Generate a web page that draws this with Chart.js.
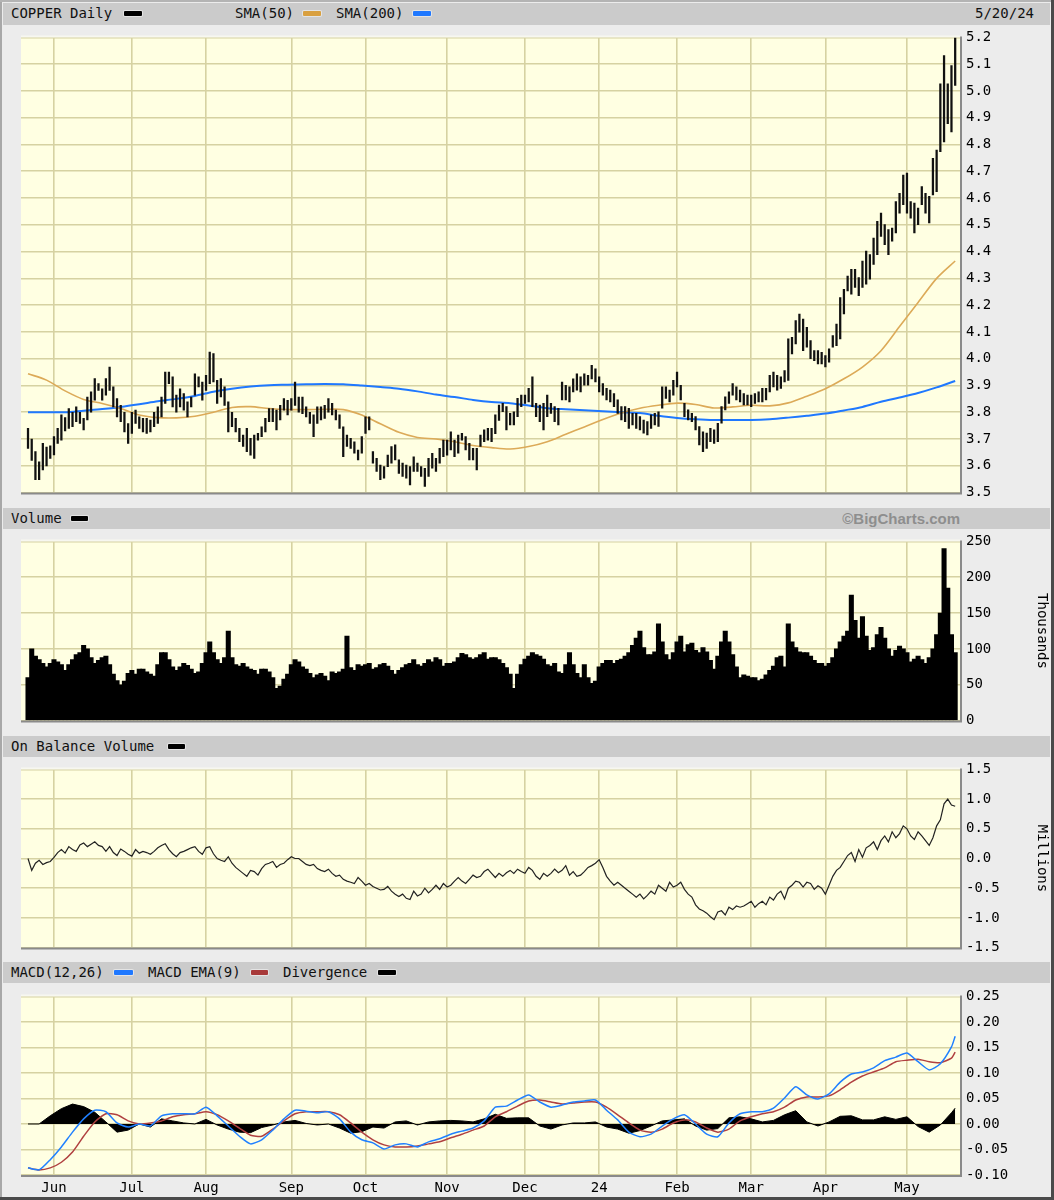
<!DOCTYPE html>
<html>
<head>
<meta charset="utf-8">
<script src="https://cdn.jsdelivr.net/npm/chart.js@4.4.1/dist/chart.umd.min.js"></script>
<style>
body { margin: 0; background: #fff; }
#frame { position: relative; width: 1054px; height: 1200px; background: #ececec; overflow: hidden;
  font-family: "DejaVu Sans Mono", monospace; }
.hdr { position: absolute; left: 3px; width: 1047px; height: 21px; background: #cbcbcb;
  font-size: 14px; line-height: 21px; color: #111; }
.hdr span { position: absolute; top: 0; white-space: pre; }
.sw { position: absolute; top: 8px; height: 5px; border-radius: 1px; box-shadow: 0 0 0 1px #e4e4e4; }
.edge { position: absolute; }
canvas { position: absolute; }
</style>
</head>
<body>
<div id="frame">
  <div class="hdr" style="top:3px;height:22px">
    <span style="left:8px">COPPER Daily</span><div class="sw" style="left:121px;width:18px;background:#000"></div>
    <span style="left:232px">SMA(50)</span><div class="sw" style="left:300px;width:18px;background:#d9a040"></div>
    <span style="left:333px">SMA(200)</span><div class="sw" style="left:410px;width:18px;background:#1f78ff"></div>
    <span style="left:972px">5/20/24</span>
  </div>
  <div class="hdr" style="top:508px">
    <span style="left:8px">Volume</span><div class="sw" style="left:68px;width:17px;background:#000"></div>
    <span style="right:90px;font-family:'Liberation Sans',Arial,sans-serif;font-weight:bold;font-size:15px;color:#8e8e8e">©BigCharts.com</span>
  </div>
  <div class="hdr" style="top:736px">
    <span style="left:8px">On Balance Volume</span><div class="sw" style="left:165px;width:17px;background:#000"></div>
  </div>
  <div class="hdr" style="top:962px">
    <span style="left:8px">MACD(12,26)</span><div class="sw" style="left:111px;width:19px;background:#1f78ff"></div>
    <span style="left:145px">MACD EMA(9)</span><div class="sw" style="left:248px;width:17px;background:#a83a3a"></div>
    <span style="left:280px">Divergence</span><div class="sw" style="left:375px;width:18px;background:#000"></div>
  </div>
  <canvas id="price" width="1029" height="484" style="left:21px;top:23px"></canvas>
  <canvas id="volume" width="1029" height="208" style="left:21px;top:527px"></canvas>
  <canvas id="obv" width="1029" height="207" style="left:21px;top:755px"></canvas>
  <canvas id="macd" width="1029" height="217" style="left:21px;top:982px"></canvas>
  <div class="edge" style="left:0;top:0;width:2px;height:1200px;background:#a8a8a8"></div>
  <div class="edge" style="left:0;top:0;width:1054px;height:2px;background:#b4b4b4"></div>
  <div class="edge" style="right:0;top:0;width:3px;height:1200px;background:#4a4a4a"></div>
  <div class="edge" style="left:0;bottom:0;width:1054px;height:3px;background:#4a4a4a"></div>
</div>
<script>
// trading calendar (COMEX copper, daily)
const startDay = "2023-05-22";
const endDay = "2024-05-20";
const holidays = ["2023-05-29", "2023-06-19", "2023-07-04", "2023-09-04", "2023-11-23",
  "2023-12-25", "2024-01-01", "2024-01-15", "2024-02-19", "2024-03-29"];
// x tick labels by month number (January shows the year)
const monthLabels = ["24", "Feb", "Mar", "Apr", "May", "Jun", "Jul", "Aug", "Sep", "Oct", "Nov", "Dec"];

// daily high / low ($/lb)
const highs = [
  3.74, 3.70, 3.653, 3.615, 3.684, 3.67, 3.675, 3.709, 3.74, 3.79,
  3.78, 3.814, 3.80, 3.82, 3.80, 3.777, 3.857, 3.876, 3.926, 3.907,
  3.888, 3.926, 3.969, 3.895, 3.851, 3.826, 3.80, 3.758, 3.80, 3.808,
  3.783, 3.777, 3.777, 3.771, 3.80, 3.82, 3.857, 3.95, 3.95, 3.932,
  3.864, 3.888, 3.87, 3.839, 3.857, 3.944, 3.932, 3.913, 3.938, 4.025,
  4.019, 3.919, 3.926, 3.895, 3.839, 3.80, 3.777, 3.74, 3.715, 3.74,
  3.703, 3.715, 3.721, 3.746, 3.777, 3.814, 3.814, 3.808, 3.826, 3.851,
  3.845, 3.851, 3.913, 3.857, 3.857, 3.82, 3.80, 3.79, 3.82, 3.82,
  3.826, 3.851, 3.833, 3.808, 3.79, 3.746, 3.715, 3.703, 3.69, 3.659,
  3.709, 3.783, 3.783, 3.653, 3.628, 3.603, 3.597, 3.64, 3.672, 3.678,
  3.622, 3.61, 3.603, 3.597, 3.634, 3.61, 3.597, 3.591, 3.628, 3.647,
  3.628, 3.665, 3.696, 3.696, 3.727, 3.696, 3.715, 3.721, 3.709, 3.684,
  3.665, 3.665, 3.715, 3.734, 3.74, 3.74, 3.79, 3.827, 3.833, 3.821,
  3.796, 3.802, 3.852, 3.864, 3.864, 3.889, 3.932, 3.833, 3.827, 3.833,
  3.864, 3.833, 3.821, 3.815, 3.913, 3.901, 3.895, 3.925, 3.944, 3.932,
  3.944, 3.938, 3.975, 3.962, 3.932, 3.907, 3.889, 3.883, 3.870, 3.846,
  3.821, 3.821, 3.815, 3.796, 3.796, 3.784, 3.771, 3.765, 3.79, 3.796,
  3.802, 3.895, 3.895, 3.883, 3.919, 3.95, 3.901, 3.833, 3.809, 3.796,
  3.784, 3.747, 3.727, 3.722, 3.74, 3.734, 3.759, 3.821, 3.858, 3.876,
  3.907, 3.895, 3.883, 3.870, 3.864, 3.864, 3.870, 3.876, 3.889, 3.889,
  3.938, 3.95, 3.938, 3.932, 3.956, 4.074, 4.08, 4.142, 4.167, 4.148,
  4.117, 4.068, 4.03, 4.03, 4.024, 4.012, 4.037, 4.086, 4.129, 4.228,
  4.259, 4.309, 4.334, 4.334, 4.303, 4.365, 4.402, 4.389, 4.451, 4.513,
  4.544, 4.501, 4.482, 4.488, 4.587, 4.618, 4.686, 4.693, 4.587, 4.581,
  4.563, 4.643, 4.618, 4.606, 4.748, 4.779, 5.027, 5.132, 5.027, 5.095,
  5.20
];
const lows = [
  3.665, 3.62, 3.548, 3.548, 3.585, 3.60, 3.628, 3.641, 3.684, 3.696,
  3.73, 3.74, 3.746, 3.765, 3.758, 3.734, 3.771, 3.80, 3.845, 3.882,
  3.845, 3.864, 3.882, 3.82, 3.783, 3.765, 3.727, 3.684, 3.721, 3.758,
  3.74, 3.727, 3.721, 3.727, 3.746, 3.758, 3.783, 3.833, 3.907, 3.82,
  3.80, 3.82, 3.808, 3.783, 3.82, 3.864, 3.895, 3.845, 3.882, 3.907,
  3.913, 3.833, 3.857, 3.826, 3.727, 3.746, 3.727, 3.69, 3.672, 3.653,
  3.64, 3.628, 3.696, 3.709, 3.727, 3.765, 3.765, 3.734, 3.771, 3.808,
  3.79, 3.808, 3.826, 3.80, 3.795, 3.783, 3.758, 3.709, 3.758, 3.771,
  3.777, 3.80, 3.79, 3.771, 3.74, 3.634, 3.672, 3.665, 3.647, 3.622,
  3.647, 3.721, 3.734, 3.61, 3.579, 3.548, 3.554, 3.597, 3.61, 3.622,
  3.572, 3.56, 3.554, 3.529, 3.579, 3.579, 3.56, 3.523, 3.56, 3.591,
  3.579, 3.61, 3.634, 3.64, 3.659, 3.634, 3.647, 3.696, 3.659, 3.622,
  3.622, 3.585, 3.672, 3.69, 3.696, 3.69, 3.72, 3.77, 3.802, 3.734,
  3.753, 3.753, 3.784, 3.821, 3.833, 3.839, 3.821, 3.784, 3.765, 3.734,
  3.784, 3.796, 3.765, 3.753, 3.846, 3.846, 3.839, 3.876, 3.883, 3.876,
  3.901, 3.901, 3.925, 3.913, 3.876, 3.864, 3.846, 3.839, 3.821, 3.796,
  3.771, 3.765, 3.740, 3.753, 3.740, 3.734, 3.722, 3.715, 3.74, 3.753,
  3.747, 3.815, 3.852, 3.839, 3.864, 3.895, 3.846, 3.784, 3.771, 3.765,
  3.734, 3.678, 3.653, 3.665, 3.69, 3.684, 3.69, 3.759, 3.809, 3.833,
  3.864, 3.846, 3.839, 3.827, 3.827, 3.821, 3.833, 3.839, 3.839, 3.846,
  3.876, 3.895, 3.883, 3.889, 3.913, 3.919, 4.018, 4.055, 4.099, 4.03,
  4.043, 4.0, 3.993, 3.981, 3.981, 3.969, 3.987, 4.043, 4.049, 4.074,
  4.167, 4.253, 4.241, 4.266, 4.235, 4.266, 4.278, 4.297, 4.352, 4.389,
  4.457, 4.426, 4.389, 4.439, 4.47, 4.544, 4.575, 4.544, 4.525, 4.47,
  4.501, 4.575, 4.544, 4.507, 4.612, 4.624, 4.773, 4.81, 4.878, 4.847,
  5.021
];

// moving averages, one reading every 5 trading days
const smaStep = 5;
const sma50 = [
  3.944, 3.92, 3.88, 3.848, 3.833, 3.814, 3.79, 3.78, 3.779, 3.785,
  3.80, 3.818, 3.821, 3.814, 3.81, 3.81, 3.811, 3.81, 3.79, 3.757,
  3.725, 3.706, 3.70, 3.69, 3.676, 3.668, 3.663, 3.672, 3.69, 3.718,
  3.745, 3.773, 3.797, 3.815, 3.826, 3.834, 3.829, 3.816, 3.82, 3.826,
  3.824, 3.835, 3.86, 3.888, 3.925, 3.969, 4.03, 4.12, 4.21, 4.30,
  4.365
];
const sma200 = [
  3.80, 3.80, 3.80, 3.806, 3.812, 3.82, 3.83, 3.841, 3.85, 3.861,
  3.877, 3.888, 3.896, 3.901, 3.903, 3.905, 3.906, 3.905, 3.90, 3.894,
  3.888, 3.878, 3.866, 3.857, 3.846, 3.838, 3.834, 3.825, 3.815, 3.811,
  3.808, 3.804, 3.80, 3.797, 3.787, 3.779, 3.774, 3.771, 3.771, 3.771,
  3.774, 3.78, 3.787, 3.795, 3.807, 3.82, 3.839, 3.855, 3.872, 3.893,
  3.917
];

// volume, thousands of contracts
const volume = [
  60, 100, 90, 85, 80, 75, 80, 85, 82, 78,
  70, 78, 85, 92, 95, 105, 100, 88, 80, 84,
  88, 90, 78, 65, 56, 50, 55, 66, 70, 65,
  72, 72, 68, 65, 62, 78, 95, 95, 85, 75,
  70, 75, 80, 77, 72, 66, 68, 80, 95, 110,
  95, 85, 80, 88, 125, 88, 78, 76, 80, 75,
  72, 70, 65, 72, 72, 68, 60, 45, 48, 58,
  65, 78, 85, 82, 75, 72, 66, 60, 64, 66,
  62, 56, 68, 66, 68, 72, 118, 74, 70, 78,
  76, 78, 80, 72, 74, 78, 80, 76, 70, 65,
  70, 74, 78, 80, 85, 78, 76, 80, 85, 82,
  88, 85, 76, 80, 80, 82, 88, 94, 92, 88,
  86, 88, 92, 95, 86, 88, 88, 85, 80, 74,
  65, 45, 65, 78, 86, 90, 95, 92, 90, 86,
  78, 76, 80, 68, 66, 78, 95, 78, 66, 60,
  78, 60, 52, 55, 75, 80, 84, 84, 80, 84,
  86, 90, 95, 105, 115, 125, 102, 92, 92, 96,
  135, 110, 92, 85, 95, 110, 118, 96, 106, 108,
  98, 95, 102, 96, 84, 72, 90, 110, 125, 110,
  92, 75, 60, 64, 62, 60, 60, 56, 58, 64,
  70, 76, 88, 90, 75, 135, 110, 102, 96, 95,
  95, 90, 84, 80, 80, 76, 80, 88, 100, 110,
  118, 125, 175, 140, 115, 145, 118, 98, 102, 120,
  130, 115, 100, 90, 98, 104, 100, 95, 82, 86,
  90, 85, 80, 88, 100, 120, 150, 240, 185, 120,
  95
];

// on balance volume, millions
const obv = [
  0.0, -0.2, -0.08, -0.03, -0.1, -0.07, -0.05, 0.02, 0.1, 0.15,
  0.09, 0.2, 0.15, 0.12, 0.23, 0.26, 0.2, 0.24, 0.28, 0.22,
  0.2, 0.12, 0.2, 0.1, 0.05, 0.16, 0.12, 0.07, 0.04, 0.15,
  0.09, 0.12, 0.1, 0.07, 0.12, 0.18, 0.22, 0.25, 0.15, 0.08,
  0.03, 0.1, 0.12, 0.15, 0.18, 0.2, 0.12, 0.07, 0.18, 0.2,
  0.08, 0.0, -0.03, -0.05, 0.03, -0.08, -0.15, -0.2, -0.25, -0.3,
  -0.2, -0.22, -0.28, -0.17, -0.1, -0.08, -0.05, -0.15, -0.1, -0.08,
  -0.02, 0.03, 0.0, 0.0, -0.05, -0.1, -0.12, -0.1, -0.17, -0.2,
  -0.22, -0.18, -0.25, -0.3, -0.28, -0.35, -0.38, -0.4, -0.42, -0.32,
  -0.38, -0.45, -0.42, -0.47, -0.5, -0.53, -0.52, -0.47, -0.55, -0.6,
  -0.64, -0.6, -0.67, -0.69, -0.55, -0.63, -0.6, -0.5, -0.58, -0.52,
  -0.45, -0.52, -0.42, -0.48, -0.45, -0.38, -0.32, -0.38, -0.42, -0.35,
  -0.28, -0.32, -0.3, -0.22, -0.18, -0.25, -0.32, -0.25, -0.3, -0.24,
  -0.2, -0.25, -0.18, -0.22, -0.25, -0.15, -0.2, -0.3, -0.35, -0.25,
  -0.3, -0.25, -0.18, -0.24, -0.2, -0.12, -0.28, -0.22, -0.3, -0.28,
  -0.22, -0.15, -0.12, -0.08, -0.02, -0.15, -0.3, -0.38, -0.45, -0.4,
  -0.45, -0.5, -0.55, -0.6, -0.65, -0.6, -0.68, -0.62, -0.55, -0.6,
  -0.45, -0.5, -0.55, -0.4, -0.48, -0.45, -0.4, -0.52, -0.6, -0.65,
  -0.78, -0.85, -0.88, -0.92, -0.98, -1.03, -0.9, -0.88, -0.95, -0.82,
  -0.86, -0.8, -0.82, -0.8, -0.76, -0.72, -0.82, -0.76, -0.72, -0.78,
  -0.65, -0.7, -0.6, -0.55, -0.68, -0.5, -0.45, -0.38, -0.4, -0.48,
  -0.4, -0.42, -0.52, -0.46, -0.5, -0.6, -0.45, -0.3, -0.2, -0.15,
  -0.05, 0.05, 0.1, -0.05, 0.15, 0.02, 0.18, 0.22, 0.28, 0.15,
  0.3, 0.38, 0.28, 0.45, 0.35, 0.42, 0.55, 0.5, 0.38, 0.32,
  0.45, 0.38, 0.3, 0.22, 0.35, 0.55, 0.65, 0.92, 1.0, 0.9,
  0.88
];

// MACD(12,26) and its 9-day EMA, one reading every 3 trading days
const macdStep = 3;
const macdLine = [
  -0.086, -0.09, -0.07, -0.045, -0.016, 0.01, 0.027, 0.024, 0.002, -0.006,
  0.0, -0.004, 0.016, 0.02, 0.02, 0.02, 0.033, 0.016, -0.004, -0.024,
  -0.039, -0.031, -0.012, 0.01, 0.027, 0.025, 0.022, 0.024, 0.01, -0.016,
  -0.031, -0.037, -0.049, -0.041, -0.039, -0.045, -0.035, -0.029, -0.02, -0.014,
  -0.008, 0.006, 0.033, 0.035, 0.047, 0.057, 0.043, 0.033, 0.037, 0.043,
  0.045, 0.047, 0.027, 0.008, -0.016, -0.025, -0.02, -0.004, 0.01, 0.018,
  0.0, -0.02, -0.025, 0.002, 0.02, 0.024, 0.024, 0.031, 0.051, 0.073,
  0.057, 0.049, 0.059, 0.082, 0.098, 0.102, 0.11, 0.124, 0.131, 0.139,
  0.122, 0.106, 0.118, 0.151, 0.172
];
const macdSignal = [
  -0.086, -0.09, -0.086, -0.075, -0.055, -0.024, 0.004, 0.02, 0.018, 0.006,
  0.0, 0.002, 0.006, 0.014, 0.018, 0.02, 0.024, 0.018, 0.006, -0.008,
  -0.022, -0.024, -0.01, 0.006, 0.02, 0.024, 0.024, 0.024, 0.018, 0.002,
  -0.016, -0.031, -0.041, -0.045, -0.045, -0.043, -0.039, -0.035, -0.027, -0.02,
  -0.012, -0.004, 0.014, 0.024, 0.035, 0.045, 0.047, 0.043, 0.039, 0.041,
  0.043, 0.043, 0.033, 0.018, 0.002, -0.012, -0.016, -0.01, 0.002, 0.008,
  0.004, -0.008, -0.016, -0.01, 0.006, 0.014, 0.02, 0.024, 0.033, 0.047,
  0.053, 0.053, 0.055, 0.067, 0.082, 0.094, 0.102, 0.11, 0.122, 0.125,
  0.127, 0.122, 0.12, 0.129, 0.141
];

// ---- calendar -> index positions
const dates = [];
for (let d = new Date(startDay + "T00:00:00Z"); d <= new Date(endDay + "T00:00:00Z"); d.setUTCDate(d.getUTCDate() + 1)) {
    const wd = d.getUTCDay();
    const key = d.toISOString().slice(0, 10);
    if (wd === 0 || wd === 6 || holidays.includes(key)) continue;
    dates.push(new Date(d));
}
const N = dates.length;
const monthStarts = [];
const monthText = {};
for (let i = 1; i < N; i++) {
    if (dates[i].getUTCMonth() !== dates[i - 1].getUTCMonth()) {
        monthStarts.push(i);
        monthText[i] = monthLabels[dates[i].getUTCMonth()];
    }
}

const gridColor = "#d6d2a2";
const tickFont = { family: '"DejaVu Sans Mono", monospace', size: 14 };
const xMin = -1.89, xMax = 251.3;

const plotFrame = {
    id: "plotFrame",
    beforeDraw(chart) {
        const a = chart.chartArea, c = chart.ctx;
        c.save();
        c.fillStyle = "#ffffe2";
        c.fillRect(a.left, a.top, a.right - a.left, a.bottom - a.top);
        c.restore();
    },
    afterDraw(chart) {
        const a = chart.chartArea, c = chart.ctx;
        c.save();
        c.strokeStyle = "#f7f7f0";
        c.lineWidth = 2;
        c.beginPath();
        c.moveTo(a.left - 1, a.bottom); c.lineTo(a.left - 1, a.top - 1); c.lineTo(a.right, a.top - 1);
        c.stroke();
        c.strokeStyle = "#8a8a8a";
        c.beginPath();
        c.moveTo(a.left - 1, a.bottom + 1); c.lineTo(a.right + 1, a.bottom + 1); c.lineTo(a.right + 1, a.top - 1);
        c.stroke();
        c.restore();
    }
};

function xAxis(showLabels) {
    return {
        type: "linear", min: xMin, max: xMax, offset: false,
        grid: { color: gridColor, lineWidth: 1.6, drawTicks: false, offset: false },
        border: { display: false },
        ticks: {
            display: showLabels, autoSkip: false, maxRotation: 0, minRotation: 0, padding: 5,
            font: tickFont, color: "#000",
            callback: (v) => monthText[v] || ""
        },
        afterBuildTicks: (s) => { s.ticks = monthStarts.map((v) => ({ value: v })); },
        afterFit: (s) => { s.height = showLabels ? 24 : 0; }
    };
}

function yAxis(min, max, step, dec, title) {
    return {
        type: "linear", position: "right", min: min, max: max, beginAtZero: false,
        grid: { color: gridColor, lineWidth: 1.6, drawTicks: false },
        border: { display: false },
        ticks: {
            stepSize: step, padding: 6, font: tickFont, color: "#000",
            callback: (v) => (Math.abs(v) < 1e-9 ? 0 : v).toFixed(dec)
        },
        title: { display: !!title, text: title || "", font: tickFont, color: "#000", padding: 0 },
        afterFit: (s) => { s.width = 90; }
    };
}

function baseOptions(xScale, yScale, bottomPad) {
    return {
        responsive: false,
        animation: false,
        devicePixelRatio: 1,
        layout: { padding: { top: 12, bottom: bottomPad, left: 0, right: 0 } },
        plugins: { legend: { display: false }, tooltip: { enabled: false } },
        scales: { x: xScale, y: yScale }
    };
}

const dayIdx = (i) => i;
const smaPoints = (arr) => arr.map((v, k) => ({ x: Math.min(k * smaStep, N - 1), y: v }));
const macdPoints = (arr) => arr.map((v, k) => ({ x: Math.min(k * macdStep, N - 1), y: v }));

// price panel
new Chart(document.getElementById("price"), {
    type: "bar",
    data: {
        datasets: [
            {
                type: "line", label: "SMA(50)", data: smaPoints(sma50),
                borderColor: "#dcaa58", borderWidth: 1.6, pointRadius: 0, tension: 0.3, order: 2
            },
            {
                type: "line", label: "SMA(200)", data: smaPoints(sma200),
                borderColor: "#1f78ff", borderWidth: 2, pointRadius: 0, tension: 0.3, order: 3
            },
            {
                type: "bar", label: "COPPER", order: 1,
                data: highs.map((h, i) => ({ x: dayIdx(i), y: [lows[i], h] })),
                backgroundColor: "#111", borderWidth: 0, barThickness: 1.6
            }
        ]
    },
    options: baseOptions(xAxis(false), yAxis(3.5, 5.2, 0.1, 1), 12),
    plugins: [plotFrame]
});

// volume panel
new Chart(document.getElementById("volume"), {
    type: "bar",
    data: {
        datasets: [{
            label: "Volume",
            data: volume.map((v, i) => ({ x: dayIdx(i), y: v })),
            backgroundColor: "#000", borderWidth: 0, barThickness: 4.4
        }]
    },
    options: baseOptions(xAxis(false), yAxis(0, 250, 50, 0, "Thousands"), 12),
    plugins: [plotFrame]
});

// on balance volume panel
new Chart(document.getElementById("obv"), {
    type: "line",
    data: {
        datasets: [{
            label: "OBV",
            data: obv.map((v, i) => ({ x: dayIdx(i), y: v })),
            borderColor: "#222", borderWidth: 1.2, pointRadius: 0, tension: 0
        }]
    },
    options: baseOptions(xAxis(false), yAxis(-1.5, 1.5, 0.5, 1, "Millions"), 12),
    plugins: [plotFrame]
});

// MACD panel
new Chart(document.getElementById("macd"), {
    type: "line",
    data: {
        datasets: [
            {
                label: "Divergence", order: 3,
                data: macdPoints(macdLine.map((v, k) => v - macdSignal[k])),
                borderColor: "#000", backgroundColor: "#000", borderWidth: 1,
                fill: "origin", pointRadius: 0, tension: 0
            },
            {
                label: "MACD EMA(9)", order: 2, data: macdPoints(macdSignal),
                borderColor: "#b04040", borderWidth: 1.5, pointRadius: 0, tension: 0.2
            },
            {
                label: "MACD(12,26)", order: 1, data: macdPoints(macdLine),
                borderColor: "#2080ff", borderWidth: 1.5, pointRadius: 0, tension: 0.2
            }
        ]
    },
    options: baseOptions(xAxis(true), yAxis(-0.10, 0.25, 0.05, 2), 0),
    plugins: [plotFrame]
});
</script>
</body>
</html>
